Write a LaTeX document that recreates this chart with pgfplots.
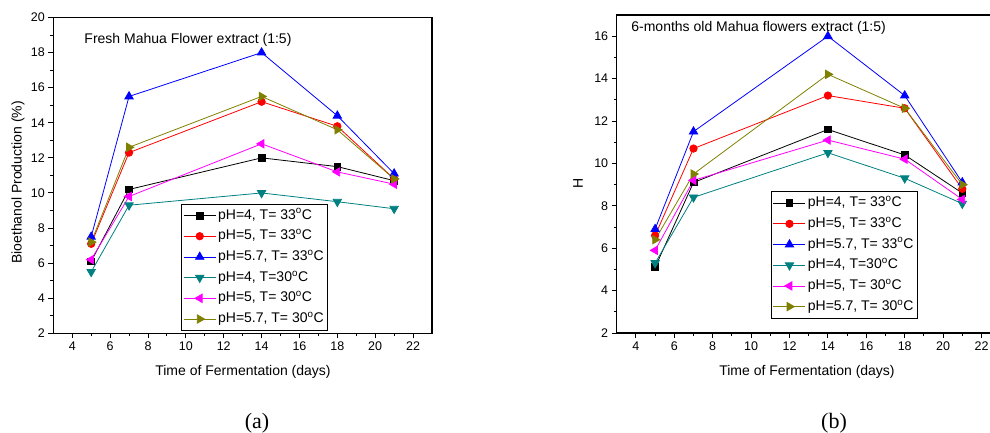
\documentclass[border=0pt]{standalone}
\usepackage{pgfplots}
\pgfplotsset{compat=1.18}
\usepackage{fontspec}
\setmainfont{Liberation Sans}
\newfontfamily\capfont{Liberation Serif}

\definecolor{cteal}{RGB}{0,128,128}
\definecolor{colive}{RGB}{128,128,0}
\definecolor{cmag}{RGB}{255,0,255}

\pgfplotsset{
  panel/.style={
    scale only axis, anchor=south west,
    xmin=3, xmax=23, xtick={4,6,...,22}, minor x tick num=1, minor y tick num=1,
    tick align=outside, tick pos=left,
    major tick length=5pt, minor tick length=3pt,
    axis line style={line width=1.1pt},
    tick style={line width=0.9pt, black},
    ticklabel style={font=\fontsize{12.5}{14}\selectfont},
    /pgf/number format/assume math mode=true,
    legend cell align=left,
    legend style={font=\fontsize{14}{16}\selectfont, draw=black, line width=0.8pt,
      anchor=south west, row sep=2pt, inner sep=2pt,
      nodes={font=\fontsize{14}{16}\selectfont, text height=11pt, text depth=3.7pt, inner sep=2pt}},
    legend image code/.code={\draw[mark repeat=2,mark phase=2]
      plot coordinates {(0pt,0pt) (16pt,0pt) (32pt,0pt)};},
    every axis plot/.append style={line width=0.8pt},
  },
  s1/.style={black, mark=square*, mark size=3.4pt, mark options={solid, fill=black}},
  s2/.style={red, mark=*, mark size=3.7pt, mark options={solid, fill=red}},
  s3/.style={blue, mark=triangle*, mark size=4.8pt, mark options={solid, fill=blue}},
  s4/.style={cteal, mark=triangle*, mark size=4.8pt, mark options={solid, fill=cteal, rotate=180}},
  s5/.style={cmag, mark=triangle*, mark size=4.8pt, mark options={solid, fill=cmag, rotate=90}},
  s6/.style={colive, mark=triangle*, mark size=4.8pt, mark options={solid, fill=colive, rotate=-90}},
}

\begin{document}
\begin{tikzpicture}
\useasboundingbox (0,0) rectangle (990pt,432pt);
\clip (0,0) rectangle (990pt,432pt);

% (a) fresh flowers
\begin{axis}[panel, at={(53.3pt,98.7pt)}, width=378.7pt, height=315.8pt,
  ymin=2, ymax=20, ytick={2,4,...,20},
  legend style={at={(axis description cs:0.337,0.008)}}]
\addplot[s1] coordinates {(5,6.1) (7,10.2) (14,12.0) (18,11.5) (21,10.7)};
\addplot[s2] coordinates {(5,7.1) (7,12.3) (14,15.2) (18,13.8) (21,10.8)};
\addplot[s3] coordinates {(5,7.5) (7,15.5) (14,18.0) (18,14.4) (21,11.1)};
\addplot[s4] coordinates {(5,5.5) (7,9.3) (14,10.0) (18,9.5) (21,9.1)};
\addplot[s5] coordinates {(5,6.2) (7,9.8) (14,12.8) (18,11.2) (21,10.5)};
\addplot[s6] coordinates {(5,7.2) (7,12.6) (14,15.5) (18,13.6) (21,10.8)};
\legend{{pH=4, T= 33\textsuperscript{o}C}, {pH=5, T= 33\textsuperscript{o}C},
  {pH=5.7, T= 33\textsuperscript{o}C}, {pH=4, T=30\textsuperscript{o}C},
  {pH=5, T= 30\textsuperscript{o}C}, {pH=5.7, T= 30\textsuperscript{o}C}}
\node[anchor=west, font=\fontsize{14}{16}\selectfont] at (rel axis cs:0.073,0.929)
  {Fresh Mahua Flower extract (1:5)};
\end{axis}

% (b) 6-months old flowers
\begin{axis}[panel, at={(616.7pt,99pt)}, width=384pt, height=318pt,
  ymin=2, ymax=17, ytick={2,4,...,16},
  legend style={at={(axis description cs:0.401,0.046)}}]
\addplot[s1] coordinates {(5,5.1) (7,9.1) (14,11.6) (18,10.4) (21,8.6)};
\addplot[s2] coordinates {(5,6.6) (7,10.7) (14,13.2) (18,12.6) (21,8.8)};
\addplot[s3] coordinates {(5,6.9) (7,11.5) (14,16.0) (18,13.2) (21,9.1)};
\addplot[s4] coordinates {(5,5.3) (7,8.4) (14,10.5) (18,9.3) (21,8.1)};
\addplot[s5] coordinates {(5,5.9) (7,9.2) (14,11.1) (18,10.2) (21,8.3)};
\addplot[s6] coordinates {(5,6.4) (7,9.5) (14,14.2) (18,12.6) (21,9.0)};
\legend{{pH=4, T= 33\textsuperscript{o}C}, {pH=5, T= 33\textsuperscript{o}C},
  {pH=5.7, T= 33\textsuperscript{o}C}, {pH=4, T=30\textsuperscript{o}C},
  {pH=5, T= 30\textsuperscript{o}C}, {pH=5.7, T= 30\textsuperscript{o}C}}
\node[anchor=west, font=\fontsize{14}{16}\selectfont] at (rel axis cs:0.029,0.959)
  {6-months old Mahua flowers extract (1:5)};
\end{axis}

% axis labels and captions
\node[rotate=90, font=\fontsize{14}{16}\selectfont] at (18pt,249.5pt) {Bioethanol Production (\%)};
\node[rotate=90, font=\fontsize{14}{16}\selectfont] at (578pt,249pt) {H};
\node[anchor=base, font=\fontsize{14}{16}\selectfont] at (243pt,57pt) {Time of Fermentation (days)};
\node[anchor=base, font=\fontsize{14}{16}\selectfont] at (807pt,57pt) {Time of Fermentation (days)};
\node[anchor=base, font=\capfont\fontsize{22}{24}\selectfont] at (257pt,4pt) {(a)};
\node[anchor=base, font=\capfont\fontsize{22}{24}\selectfont] at (834pt,4pt) {(b)};
\end{tikzpicture}
\end{document}
